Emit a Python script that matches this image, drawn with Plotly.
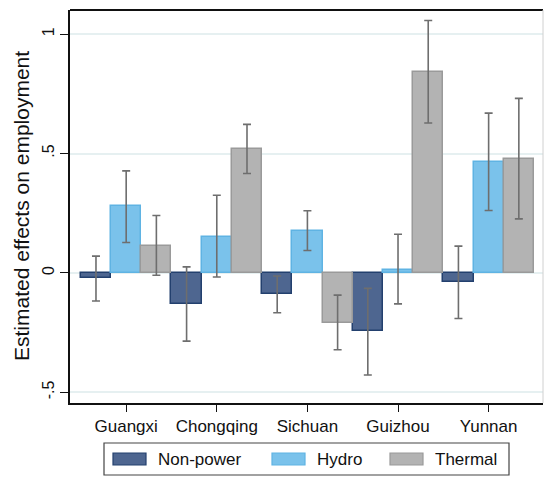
import plotly.graph_objects as go

provinces = ["Guangxi", "Chongqing", "Sichuan", "Guizhou", "Yunnan"]
sectors = ["Non-power", "Hydro", "Thermal"]

# point estimates
nonpower = [-0.023, -0.132, -0.089, -0.244, -0.040]
hydro = [0.279, 0.151, 0.177, 0.014, 0.464]
thermal = [0.113, 0.520, -0.208, 0.843, 0.477]

# confidence interval bounds
nonpower_hi = [0.070, 0.025, -0.013, -0.065, 0.112]
nonpower_lo = [-0.118, -0.286, -0.167, -0.428, -0.191]
hydro_hi = [0.427, 0.325, 0.260, 0.162, 0.669]
hydro_lo = [0.127, -0.017, 0.094, -0.130, 0.261]
thermal_hi = [0.240, 0.622, -0.093, 1.057, 0.731]
thermal_lo = [-0.010, 0.416, -0.322, 0.628, 0.226]

fills = ["#4e6690", "#7ac2eb", "#b3b3b3"]
edges = ["#23406e", "#5fb3e3", "#9a9a9a"]

series = [
    (nonpower, nonpower_lo, nonpower_hi),
    (hydro, hydro_lo, hydro_hi),
    (thermal, thermal_lo, thermal_hi),
]

fig = go.Figure()
for name, (est, lo, hi), fc, ec in zip(sectors, series, fills, edges):
    fig.add_trace(go.Bar(
        x=list(range(len(provinces))), y=est, name=name,
        marker=dict(color=fc, line=dict(color=ec, width=1.5)),
        error_y=dict(
            type="data", symmetric=False,
            array=[h - e for h, e in zip(hi, est)],
            arrayminus=[e - l for e, l in zip(est, lo)],
            color="#6e6e6e", thickness=1.6, width=4,
        ),
        showlegend=False,
    ))

font = "Liberation Sans, Arial, Helvetica, sans-serif"

fig.update_layout(
    width=544, height=477,
    margin=dict(l=70, r=1, t=10, b=74),
    paper_bgcolor="white", plot_bgcolor="white",
    barmode="group", bargap=0, bargroupgap=0,
    font=dict(family=font, size=17, color="#111"),
    xaxis=dict(
        range=[-0.62, 4.6], tickmode="array",
        tickvals=list(range(len(provinces))), ticktext=provinces,
        ticks="outside", ticklen=7, tickwidth=1.2, tickcolor="#111",
        showline=True, linecolor="#111", linewidth=2,
        showgrid=False, zeroline=False, tickfont=dict(size=17),
    ),
    yaxis=dict(
        range=[-0.545, 1.101], tickmode="array",
        tickvals=[-0.5, 0, 0.5, 1], ticktext=["-.5", "0", ".5", "1"],
        tickangle=-90, ticks="outside", ticklen=8, tickwidth=1.2, tickcolor="#111",
        showline=True, linecolor="#111", linewidth=2,
        showgrid=True, gridcolor="#e6f0f1", gridwidth=1.5,
        zeroline=True, zerolinecolor="#e6f0f1", zerolinewidth=1.5,
        tickfont=dict(size=16),
    ),
)

H = 477 - 10 - 74
W = 544 - 70 - 1
def px(x):
    return (x - 70) / W
def py(y):
    return (477 - 74 - y) / H

# y-axis title
fig.add_annotation(text="Estimated effects on employment", textangle=-90,
                   xref="paper", yref="paper", x=px(21), y=py(206),
                   xanchor="center", yanchor="middle", showarrow=False,
                   font=dict(size=21, color="#111"))

# frame: top edge dark, right edge faint
fig.add_shape(type="line", xref="paper", yref="paper", x0=0, x1=1, y0=1, y1=1,
              line=dict(color="#111", width=2))
fig.add_shape(type="line", xref="paper", yref="paper", x0=1, x1=1, y0=0, y1=1,
              line=dict(color="#d0d0d0", width=1))

# legend box with wide swatches
fig.add_shape(type="rect", xref="paper", yref="paper",
              x0=px(104), x1=px(509), y0=py(443), y1=py(475),
              line=dict(color="#444", width=1.2), fillcolor="white")
swatch_x = [113, 272, 390]
for name, sx, fc, ec in zip(sectors, swatch_x, fills, edges):
    fig.add_shape(type="rect", xref="paper", yref="paper",
                  x0=px(sx), x1=px(sx + 33), y0=py(453), y1=py(465),
                  line=dict(color=ec, width=1.2), fillcolor=fc)
    fig.add_annotation(text=name, xref="paper", yref="paper",
                       x=px(sx + 43), y=py(459), xanchor="left", yanchor="middle",
                       showarrow=False, font=dict(size=17, color="#111"))

fig.write_html("out.html")
